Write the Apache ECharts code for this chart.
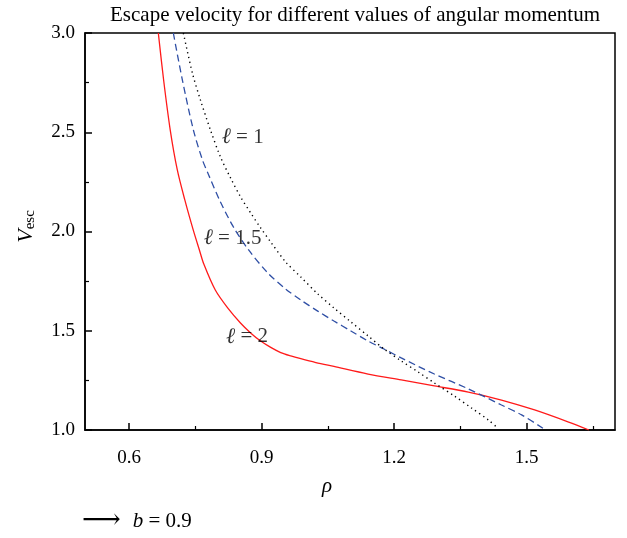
<!DOCTYPE html>
<html>
<head>
<meta charset="utf-8">
<script src="https://cdn.jsdelivr.net/npm/echarts@6/dist/echarts.min.js"></script>
<style>html,body{margin:0;padding:0;background:#fff;}#c{width:627px;height:538px;}</style>
</head>
<body>
<div id="c"></div>
<script>
// ---- data ----
const titleText = 'Escape velocity for different values of angular momentum';
const xMajorTicks = [0.6, 0.9, 1.2, 1.5];
const xMinorTicks = [0.75, 1.05, 1.35, 1.65];

// l = 2 (red solid)
const rhoL2 = [0.666, 0.678, 0.693, 0.709, 0.726, 0.745, 0.759, 0.769, 0.795, 0.823, 0.852, 0.875, 0.8977, 0.9205, 0.9432, 0.9659, 0.9886, 1.0227, 1.0636, 1.141, 1.216, 1.291, 1.368, 1.443, 1.518, 1.595, 1.641];
const vL2   = [3.000, 2.763, 2.511, 2.310, 2.159, 2.008, 1.907, 1.836, 1.705, 1.615, 1.539, 1.489, 1.448,  1.416,  1.390,  1.373,  1.359,  1.340,  1.320,  1.282, 1.252, 1.222, 1.191, 1.151, 1.101, 1.040, 1.000];
// l = 1.5 (blue dashed)
const rhoL15 = [0.700, 0.7205, 0.7455, 0.766, 0.780, 0.8045, 0.836, 0.8705, 0.914, 0.9545, 0.9886, 1.027, 1.0636, 1.102, 1.141, 1.177, 1.216, 1.291, 1.368, 1.443, 1.4886, 1.536, 1.541];
const vL15   = [3.000, 2.763, 2.511, 2.360, 2.285, 2.159, 2.023, 1.907, 1.791, 1.710, 1.655, 1.599, 1.549, 1.499, 1.448, 1.408, 1.363, 1.282, 1.207, 1.126, 1.076, 1.010, 1.000];
// l = 1 (black dotted)
const rhoL1 = [0.7227, 0.7432, 0.7614, 0.7841, 0.8068, 0.8295, 0.8523, 0.875, 0.8977, 0.9205, 0.9545, 0.9886, 1.0273, 1.0636, 1.1023, 1.1409, 1.1773, 1.2159, 1.2545, 1.2909, 1.3364, 1.375, 1.4136, 1.4341];
const vL1   = [3.000, 2.798, 2.662, 2.511, 2.375, 2.270, 2.174, 2.094, 2.018, 1.947, 1.846, 1.771, 1.685, 1.615, 1.544, 1.474, 1.408, 1.348, 1.292, 1.237, 1.171, 1.111, 1.050, 1.010];

const curveLabels = ['1', '1.5', '2'];
const labelRho = [0.857, 0.834, 0.867];
const labelV = [2.476, 1.967, 1.469];

const zip = (a, b) => a.map((v, i) => [v, b[i]]);
const SERIF = '"Liberation Serif", "DejaVu Serif", serif';

const chart = echarts.init(document.getElementById('c'), null, {renderer: 'canvas'});
const gridBox = {left: 85, right: 12, top: 33, bottom: 108};

chart.setOption({
  animation: false,
  backgroundColor: '#fff',
  grid: [
    Object.assign({show: true, borderColor: '#000', borderWidth: 1.5, backgroundColor: 'transparent'}, gridBox),
    Object.assign({show: false}, gridBox)
  ],
  xAxis: [
    {
      type: 'value', gridIndex: 0, min: 0.5, max: 1.7,
      axisLine: {show: true, lineStyle: {color: '#000', width: 1.5}},
      axisTick: {show: true, inside: true, length: 7, customValues: xMajorTicks, lineStyle: {color: '#000', width: 1.5}},
      axisLabel: {show: true, customValues: xMajorTicks, formatter: v => v.toFixed(1), color: '#000', fontFamily: SERIF, fontSize: 19, margin: 19},
      splitLine: {show: false}
    },
    {
      type: 'value', gridIndex: 1, min: 0.5, max: 1.7,
      axisLine: {show: false},
      axisTick: {show: true, inside: true, length: 4, customValues: xMinorTicks, lineStyle: {color: '#000', width: 1.2}},
      axisLabel: {show: false},
      splitLine: {show: false}
    }
  ],
  yAxis: [
    {
      type: 'value', gridIndex: 0, min: 1.0, max: 3.0, interval: 0.5,
      axisLine: {show: true, lineStyle: {color: '#000', width: 1.5}},
      axisTick: {show: true, inside: true, length: 7, lineStyle: {color: '#000', width: 1.5}},
      minorTick: {show: true, splitNumber: 2, length: 4, lineStyle: {color: '#000', width: 1.2}},
      axisLabel: {formatter: v => v.toFixed(1), color: '#000', fontFamily: SERIF, fontSize: 19, margin: 10},
      splitLine: {show: false},
      name: '{v|V}{s|esc}', nameLocation: 'middle', nameGap: 47, nameRotate: 90,
      nameTextStyle: {
        padding: [0, 0, 0, 10],
        rich: {
          v: {fontFamily: SERIF, fontStyle: 'italic', fontSize: 22, color: '#000'},
          s: {fontFamily: SERIF, fontSize: 15, color: '#000', padding: [9, 0, 0, 0]}
        }
      }
    },
    {type: 'value', gridIndex: 1, min: 1.0, max: 3.0, show: false}
  ],
  series: [
    {
      type: 'line', name: 'l=2', data: zip(rhoL2, vL2), showSymbol: false, smooth: 0.3,
      lineStyle: {color: '#ff1a1a', width: 1.3}, z: 3
    },
    {
      type: 'line', name: 'l=1.5', data: zip(rhoL15, vL15), showSymbol: false, smooth: 0.3,
      lineStyle: {color: '#2f4fa5', width: 1.3, type: [7, 4]}, z: 3
    },
    {
      type: 'line', name: 'l=1', data: zip(rhoL1, vL1), showSymbol: false, smooth: 0.3,
      lineStyle: {color: '#000', width: 1.4, type: [1.3, 3.6]}, z: 3
    },
    {
      type: 'scatter', symbolSize: 0, silent: true, z: 5,
      data: curveLabels.map((t, i) => ({value: [labelRho[i], labelV[i]], name: t})),
      label: {
        show: true, position: 'inside',
        formatter: p => '{l|ℓ}{t| = ' + p.name + '}',
        rich: {
          l: {fontFamily: SERIF, fontStyle: 'italic', fontSize: 22, color: '#000'},
          t: {fontFamily: SERIF, fontSize: 21, color: '#000'}
        }
      }
    }
  ],
  graphic: [
    {type: 'text', x: 355, y: 15, style: {text: titleText, fontFamily: SERIF, fontSize: 21, fill: '#000', align: 'center', verticalAlign: 'middle'}},
    {type: 'text', x: 327, y: 486, style: {text: 'ρ', fontFamily: SERIF, fontStyle: 'italic', fontSize: 21, fill: '#000', align: 'center', verticalAlign: 'middle'}},
    {type: 'text', x: 82, y: 521, style: {
      text: '{a|⟶}{b|b}{c| = 0.9}', align: 'left', verticalAlign: 'middle',
      rich: {
        a: {fontFamily: '"DejaVu Serif", serif', fontSize: 27, fill: '#000', padding: [0, 12, 0, 0]},
        b: {fontFamily: SERIF, fontStyle: 'italic', fontSize: 21, fill: '#000'},
        c: {fontFamily: SERIF, fontSize: 21, fill: '#000'}
      }
    }}
  ]
});
</script>
</body>
</html>
